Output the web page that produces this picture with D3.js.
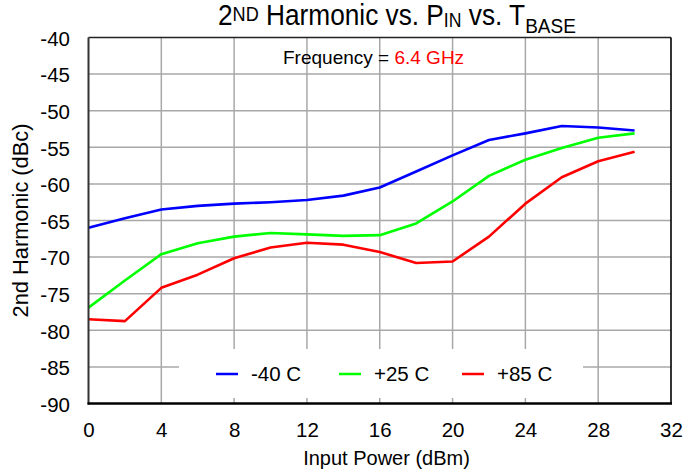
<!DOCTYPE html>
<html><head><meta charset="utf-8">
<script src="https://cdn.jsdelivr.net/npm/d3@7"></script>
<style>body{margin:0;background:#fff}svg{display:block;font-family:"Liberation Sans",Arial,sans-serif}</style>
</head><body><svg id="c" width="684" height="473"></svg>
<script>
const xValues = [0,2,4,6,8,10,12,14,16,18,20,22,24,26,28,30];
const seriesNames = ["-40 C","+25 C","+85 C"];
const seriesColors = ["#0000ff","#00ff00","#ff0000"];
const minus40 = [-66.0,-64.7,-63.5,-63.0,-62.7,-62.5,-62.2,-61.6,-60.5,-58.3,-56.1,-54.0,-53.1,-52.1,-52.3,-52.7];
const plus25  = [-76.9,-73.2,-69.6,-68.1,-67.2,-66.7,-66.9,-67.1,-67.0,-65.4,-62.4,-58.9,-56.7,-55.1,-53.7,-53.1];
const plus85  = [-78.5,-78.75,-74.2,-72.4,-70.15,-68.7,-68.05,-68.3,-69.3,-70.8,-70.6,-67.2,-62.7,-59.1,-56.9,-55.6];
const xTicks = [0,4,8,12,16,20,24,28,32];
const yTicks = [-40,-45,-50,-55,-60,-65,-70,-75,-80,-85,-90];

const series = [minus40, plus25, plus85];
const svg = d3.select("#c");
const L=88.5, R=671, T=37.5, B=403.5;
const x = d3.scaleLinear().domain([0,32]).range([L,R]);
const y = d3.scaleLinear().domain([-90,-40]).range([B,T]);

// grid
const g = svg.append("g");
g.selectAll("line.v").data(xTicks.slice(1,-1)).join("line")
  .attr("x1",d=>x(d)).attr("x2",d=>x(d)).attr("y1",T).attr("y2",B)
  .attr("stroke","#a8a8a8").attr("stroke-width",1.5);
g.selectAll("line.h").data(yTicks.slice(1,-1)).join("line")
  .attr("x1",L).attr("x2",R).attr("y1",d=>y(d)).attr("y2",d=>y(d))
  .attr("stroke","#a8a8a8").attr("stroke-width",1.5);

// legend background
svg.append("rect").attr("x",179).attr("y",349).attr("width",404).attr("height",49).attr("fill","#fff");

// lines
const line = d3.line().x((d,i)=>x(xValues[i])).y(d=>y(d));
series.forEach((s,k)=>{
  svg.append("path").datum(s).attr("d",line).attr("fill","none")
    .attr("stroke",seriesColors[k]).attr("stroke-width",2.6).attr("stroke-linejoin","round");
});

// frame
svg.append("line").attr("x1",L).attr("x2",R).attr("y1",T).attr("y2",T).attr("stroke","#222").attr("stroke-width",1.6);
svg.append("line").attr("x1",R).attr("x2",R).attr("y1",T).attr("y2",B).attr("stroke","#000").attr("stroke-width",1.6);
svg.append("line").attr("x1",L).attr("x2",L).attr("y1",T).attr("y2",B+1).attr("stroke","#333").attr("stroke-width",2);
svg.append("line").attr("x1",L-1).attr("x2",R+1).attr("y1",B).attr("y2",B).attr("stroke","#000").attr("stroke-width",2.5);

// axes labels via d3 axes
const FS = 20.5;
const fmt = d => String(d);
const yAxis = svg.append("g").attr("transform",`translate(${L},0)`)
  .call(d3.axisLeft(y).tickValues(yTicks).tickSize(0).tickPadding(18.5).tickFormat(fmt));
yAxis.select(".domain").remove();
yAxis.selectAll("text").attr("font-size",FS).attr("fill","#000").attr("dy","0.38em")
  .attr("font-family","Liberation Sans, Arial, sans-serif");
const xAxis = svg.append("g").attr("transform",`translate(0,${B})`)
  .call(d3.axisBottom(x).tickValues(xTicks).tickSize(0).tickPadding(18.6).tickFormat(fmt));
xAxis.select(".domain").remove();
xAxis.selectAll("text").attr("font-size",FS).attr("fill","#000")
  .attr("font-family","Liberation Sans, Arial, sans-serif");

// title (condensed)
const tg = svg.append("g");
const title = tg.append("text").attr("x",0).attr("y",0).attr("font-size",29).attr("fill","#000");
title.append("tspan").text("2");
title.append("tspan").attr("font-size",20).attr("dy",-4.3).text("ND");
title.append("tspan").attr("dy",4.3).text(" Harmonic vs. P");
title.append("tspan").attr("font-size",19.5).attr("dy",1.7).text("IN");
title.append("tspan").attr("dy",-1.7).text(" vs. T");
title.append("tspan").attr("font-size",21).attr("dy",8.3).text("BASE");
const tb = title.node().getBBox();
const tx0 = 218, tx1 = 576;
const sx = (tx1-tx0)/tb.width;
tg.attr("transform",`translate(${tx0 - tb.x*sx},25) scale(${sx},1)`);

const freq = svg.append("text").attr("x",283).attr("y",64).attr("font-size",19).attr("fill","#000");
freq.append("tspan").text("Frequency = ");
freq.append("tspan").attr("fill","#ff0000").text("6.4 GHz");

svg.append("text").attr("x",386.5).attr("y",465).attr("text-anchor","middle").attr("font-size",20)
  .text("Input Power (dBm)");
svg.append("text").attr("transform",`translate(28,220.5) rotate(-90)`).attr("text-anchor","middle").attr("font-size",21.8)
  .text("2nd Harmonic (dBc)");

// legend
const legX = [216,339,462];
seriesNames.forEach((n,k)=>{
  svg.append("line").attr("x1",legX[k]).attr("x2",legX[k]+22).attr("y1",374).attr("y2",374)
    .attr("stroke",seriesColors[k]).attr("stroke-width",2.5);
  svg.append("text").attr("x",legX[k]+35).attr("y",381).attr("font-size",FS).text(n);
});
</script></body></html>
